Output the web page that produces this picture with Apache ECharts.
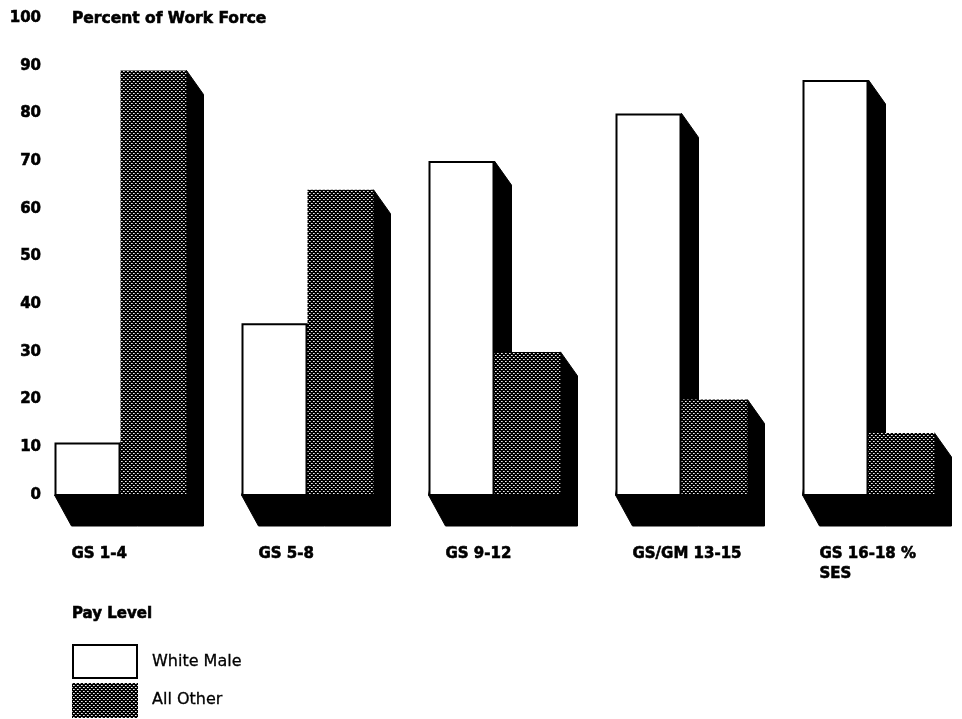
<!DOCTYPE html>
<html>
<head>
<meta charset="utf-8">
<script src="https://cdn.jsdelivr.net/npm/echarts@6/dist/echarts.min.js"></script>
<style>
  html, body { margin: 0; padding: 0; background: #ffffff; }
  #chart { width: 962px; height: 719px; }
</style>
</head>
<body>
<div id="chart"></div>
<script>
// Share of the work force at each pay level
const payLevels = ['GS 1-4', 'GS 5-8', 'GS 9-12', 'GS/GM 13-15', 'GS 16-18 %\nSES'];
const whiteMale = [11, 36, 70, 80, 87];
const allOther = [89, 64, 30, 20, 13];
const seriesNames = ['White Male', 'All Other'];
const valueAxisTitle = 'Percent of Work Force';
const categoryAxisTitle = 'Pay Level';

const FONT = '"DejaVu Sans", "Liberation Sans", Arial, sans-serif';
const HEAVY = { stroke: '#000', lineWidth: 0.6 };

// Halftone dot screen used for the shaded bars
function makeDotPattern() {
  const c = document.createElement('canvas');
  c.width = 4; c.height = 4;
  const g = c.getContext('2d');
  g.fillStyle = '#000';
  g.fillRect(0, 0, 4, 4);
  g.fillStyle = '#eeeeee';
  g.fillRect(1, 1, 1, 1);
  g.fillRect(3, 3, 1, 1);
  g.fillStyle = '#a0a0a0';
  g.fillRect(2, 1, 1, 1);
  g.fillRect(0, 3, 1, 1);
  return c;
}
const dotFill = { image: makeDotPattern(), repeat: 'repeat' };

// bar geometry (pixels)
const BAR_W = 66;     // width of each bar face
const DEPTH_X = 17;   // horizontal extrusion
const DEPTH_TOP = 24; // vertical drop along the top edge
const DEPTH_BASE = 31;// vertical drop of the floor

const tableData = payLevels.map((c, i) => [i, whiteMale[i], allOther[i]]);

function extrusion(x0, x1, yTop, yBase) {
  return {
    type: 'polygon',
    shape: {
      points: [
        [x0, yBase],
        [x0 + DEPTH_X, yBase + DEPTH_BASE],
        [x1 + DEPTH_X, yBase + DEPTH_BASE],
        [x1 + DEPTH_X, yTop + DEPTH_TOP],
        [x1, yTop]
      ]
    },
    style: { fill: '#000', stroke: '#000', lineWidth: 1 }
  };
}

function renderShadow(params, api) {
  const i = api.value(0);
  const base = api.coord([i, 0]);
  const cx = base[0], yb = base[1];
  const yw = api.coord([i, api.value(1)])[1];
  const yo = api.coord([i, api.value(2)])[1];
  return {
    type: 'group',
    children: [
      extrusion(cx - BAR_W, cx, yw, yb),
      extrusion(cx, cx + BAR_W, yo, yb),
      {
        type: 'text',
        x: cx - BAR_W + DEPTH_X,
        y: yb + 49,
        style: Object.assign({
          text: payLevels[i],
          fill: '#000',
          font: 'bold 15px ' + FONT,
          align: 'left',
          verticalAlign: 'top',
          lineHeight: 20
        }, HEAVY)
      }
    ]
  };
}

function renderWhite(params, api) {
  const i = api.value(0);
  const base = api.coord([i, 0]);
  const top = api.coord([i, api.value(1)]);
  const cx = base[0];
  return {
    type: 'rect',
    shape: { x: cx - BAR_W + 1, y: top[1] + 1, width: BAR_W - 2, height: base[1] - top[1] - 1 },
    style: { fill: '#fff', stroke: '#000', lineWidth: 2 }
  };
}

function renderOther(params, api) {
  const i = api.value(0);
  const base = api.coord([i, 0]);
  const top = api.coord([i, api.value(1)]);
  const cx = base[0];
  return {
    type: 'rect',
    shape: { x: cx, y: top[1], width: BAR_W, height: base[1] - top[1] },
    style: { fill: dotFill }
  };
}

const chart = echarts.init(document.getElementById('chart'), null, { renderer: 'canvas' });

chart.setOption({
  backgroundColor: '#ffffff',
  animation: false,
  grid: { left: 27, top: 18, width: 939, height: 477 },
  xAxis: {
    type: 'category',
    data: payLevels,
    show: false
  },
  yAxis: {
    type: 'value',
    min: 0,
    max: 100,
    interval: 10,
    axisLine: { show: false },
    axisTick: { show: false },
    splitLine: { show: false },
    axisLabel: {
      margin: -14,
      color: '#000',
      fontFamily: FONT,
      fontWeight: 'bold',
      fontSize: 15,
      textBorderColor: '#000',
      textBorderWidth: 0.6
    }
  },
  series: [
    {
      type: 'custom',
      name: 'depth',
      z: 1,
      renderItem: renderShadow,
      data: tableData
    },
    {
      type: 'custom',
      name: seriesNames[0],
      z: 2,
      renderItem: renderWhite,
      data: payLevels.map((c, i) => [i, whiteMale[i]])
    },
    {
      type: 'custom',
      name: seriesNames[1],
      z: 2,
      renderItem: renderOther,
      data: payLevels.map((c, i) => [i, allOther[i]])
    }
  ],
  graphic: [
    {
      type: 'text', x: 72, y: 19,
      style: Object.assign({ text: valueAxisTitle, fill: '#000', font: 'bold 15.5px ' + FONT, verticalAlign: 'middle' }, HEAVY)
    },
    {
      type: 'text', x: 72, y: 614,
      style: Object.assign({ text: categoryAxisTitle, fill: '#000', font: 'bold 15px ' + FONT, verticalAlign: 'middle' }, HEAVY)
    },
    {
      type: 'rect', shape: { x: 73, y: 645, width: 64, height: 33 },
      style: { fill: '#fff', stroke: '#000', lineWidth: 2 }
    },
    {
      type: 'text', x: 152, y: 662,
      style: { text: seriesNames[0], fill: '#000', font: '16px ' + FONT, verticalAlign: 'middle', stroke: '#000', lineWidth: 0.3 }
    },
    {
      type: 'rect', shape: { x: 72, y: 683, width: 66, height: 35 },
      style: { fill: dotFill }
    },
    {
      type: 'text', x: 152, y: 700,
      style: { text: seriesNames[1], fill: '#000', font: '16px ' + FONT, verticalAlign: 'middle', stroke: '#000', lineWidth: 0.3 }
    }
  ]
});
</script>
</body>
</html>
